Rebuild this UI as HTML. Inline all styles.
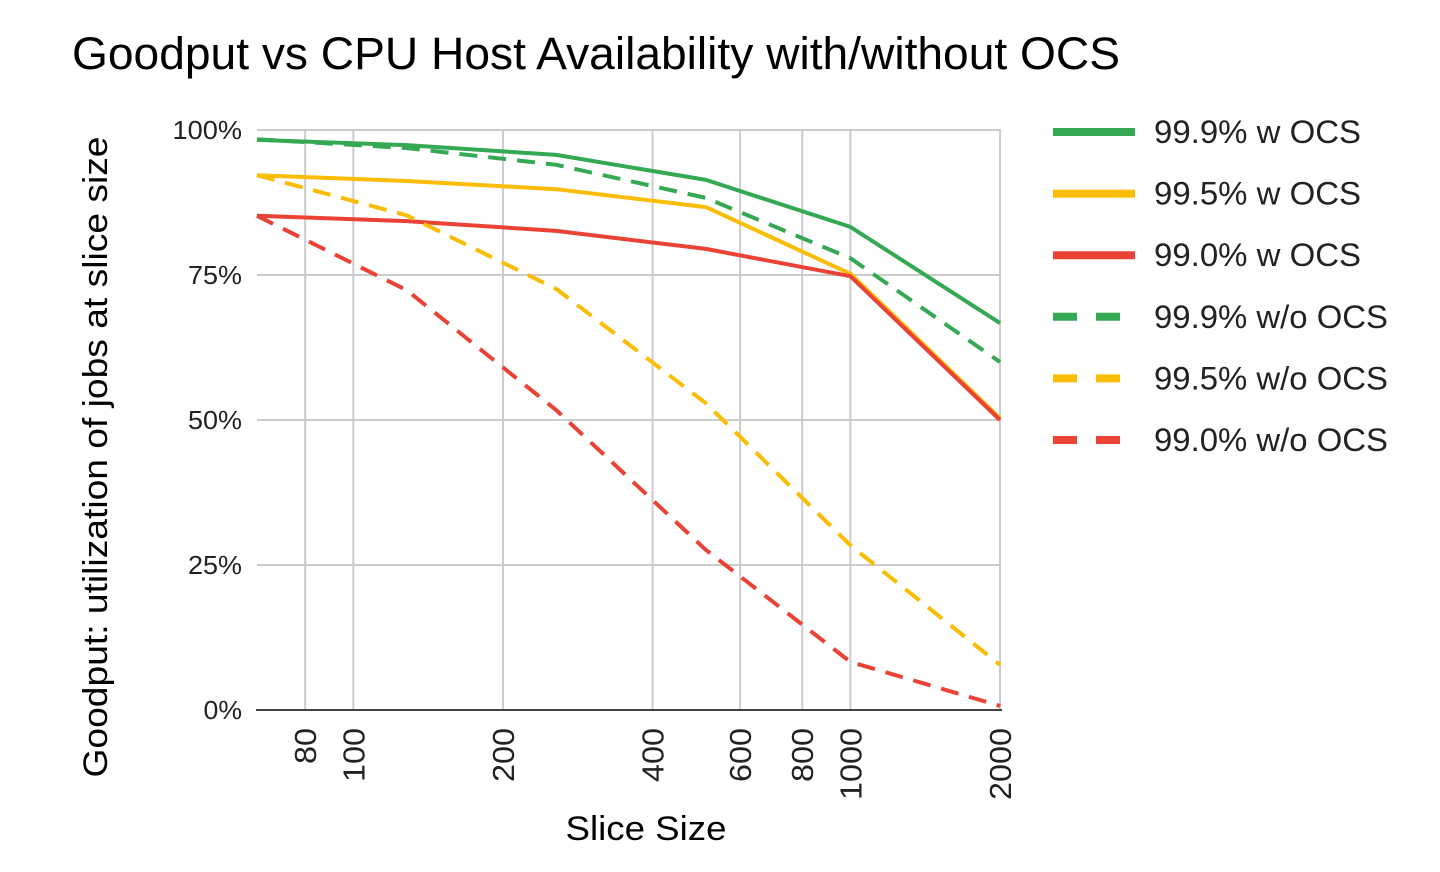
<!DOCTYPE html>
<html><head><meta charset="utf-8"><style>
html,body{margin:0;padding:0;background:#fff;width:1440px;height:872px;overflow:hidden}
svg{display:block;font-family:"Liberation Sans",Arial,sans-serif}
</style></head><body>
<svg id="chart" width="1440" height="872">
<text x="72" y="69" font-size="45" textLength="1048" lengthAdjust="spacingAndGlyphs" fill="#000">Goodput vs CPU Host Availability with/without OCS</text>
<text transform="translate(107,457) rotate(-90)" text-anchor="middle" font-size="34" textLength="641" lengthAdjust="spacingAndGlyphs" fill="#000">Goodput: utilization of jobs at slice size</text>
<text x="646" y="840" text-anchor="middle" font-size="34" textLength="161" lengthAdjust="spacingAndGlyphs" fill="#000">Slice Size</text>
<g id="grid"></g><g id="series"></g><g id="legend"></g>
</svg>
<script>
const xs = [64, 128, 256, 512, 1000, 2000];
const yTicks = [0, 25, 50, 75, 100];
const xTicks = [80, 100, 200, 400, 600, 800, 1000, 2000];
const names = ["99.9% w OCS","99.5% w OCS","99.0% w OCS","99.9% w/o OCS","99.5% w/o OCS","99.0% w/o OCS"];
const colors = ["#34a853","#fbbc04","#ea4335","#34a853","#fbbc04","#ea4335"];
const dashed = [false,false,false,true,true,true];
const s1 = [98.3, 97.4, 95.7, 91.4, 83.3, 66.7];
const s2 = [92.2, 91.2, 89.8, 86.7, 75.2, 50.3];
const s3 = [85.2, 84.3, 82.6, 79.5, 74.8, 50.0];
const s4 = [98.4, 96.9, 94.0, 88.3, 77.9, 60.0];
const s5 = [92.2, 85.3, 72.6, 52.9, 28.4, 7.8];
const s6 = [85.2, 72.4, 51.7, 27.6, 8.3, 0.7];
const series = [s1,s2,s3,s4,s5,s6];

const NS="http://www.w3.org/2000/svg";
const X0=257,X1=1000,Y0=710,Y1=130;
const lmin=Math.log10(64),lmax=Math.log10(2000);
function xp(v){return X0+(Math.log10(v)-lmin)/(lmax-lmin)*(X1-X0);}
function yp(v){return Y0-(v/100)*(Y0-Y1);}
function mk(t,a,p){const e=document.createElementNS(NS,t);for(const k in a)e.setAttribute(k,a[k]);p.appendChild(e);return e;}
const grid=document.getElementById('grid');
yTicks.forEach(t=>{
  if(t>0){const l=mk('line',{x1:X0,x2:X1+1,y1:yp(t),y2:yp(t),stroke:'#ccc','stroke-width':2},grid);
  
  }
  const s=t+'%';
  const tx=mk('text',{x:242,y:yp(t)+9,'text-anchor':'end','font-size':26,textLength:(s.length-1)*15.5+23,lengthAdjust:'spacingAndGlyphs',fill:'#222'},grid);
  tx.textContent=s;
  
  
});
xTicks.forEach(t=>{
  const x=xp(t);
  const l=mk('line',{x1:x,x2:x,y1:Y1,y2:Y0,stroke:'#ccc','stroke-width':2},grid);
  
  
  const n=String(t).length;
  const tx=mk('text',{transform:`translate(${x+11},728) rotate(-90)`,'text-anchor':'end','font-size':31,textLength:n*18,lengthAdjust:'spacingAndGlyphs',fill:'#222'},grid);
  tx.textContent=t;
  
  
});
const ax=mk('line',{x1:X0-1,x2:X1+2,y1:Y0,y2:Y0,stroke:'#444','stroke-width':2},grid);


const sg=document.getElementById('series');
series.forEach((s,i)=>{
  const pts=s.map((v,j)=>xp(xs[j]).toFixed(1)+','+yp(v).toFixed(1)).join(' ');
  const a={points:pts,fill:'none',stroke:colors[i],'stroke-width':4,'stroke-linejoin':'round'};
  if(dashed[i])a['stroke-dasharray']='18,11';
  const p=mk('polyline',a,sg);
  
  
});
const lg=document.getElementById('legend');
names.forEach((n,i)=>{
  const y=132+i*61.6;
  const a={x1:1053,x2:1135,y1:y,y2:y,stroke:colors[i],'stroke-width':8};
  if(dashed[i])a['stroke-dasharray']='24,19';
  const l=mk('line',a,lg);
  
  
  const t=mk('text',{x:1154,y:y+11,'font-size':32,textLength:i<3?207:234,lengthAdjust:'spacingAndGlyphs',fill:'#222'},lg);
  t.textContent=n;
  
  
});
</script>
</body></html>
